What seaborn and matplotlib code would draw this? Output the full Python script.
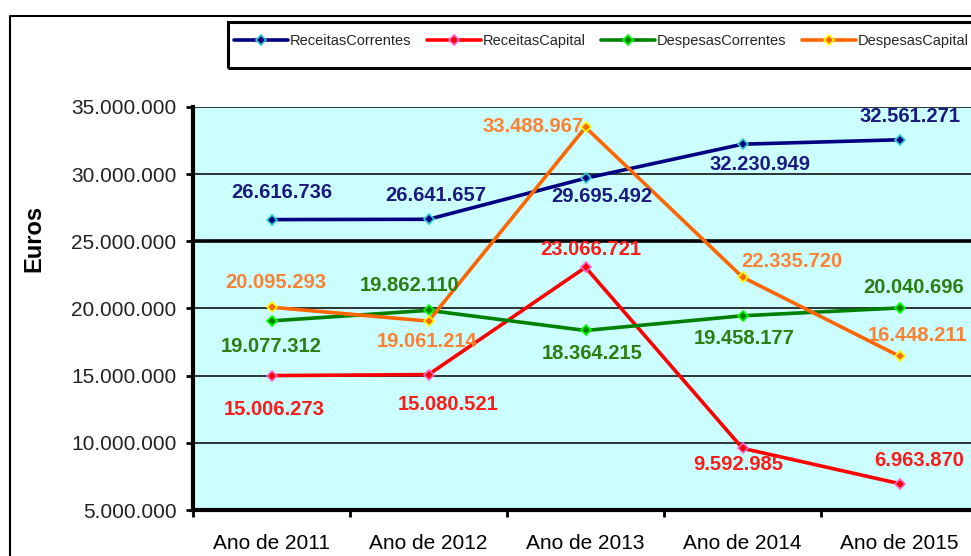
import matplotlib
matplotlib.use("Agg")
import pandas as pd
import seaborn as sns
from matplotlib import pyplot as plt
from matplotlib.lines import Line2D
from matplotlib.patches import Rectangle
from matplotlib.ticker import FuncFormatter, FixedLocator

# data
years = ["Ano de 2011", "Ano de 2012", "Ano de 2013", "Ano de 2014", "Ano de 2015"]
receitas_correntes = [26616736, 26641657, 29695492, 32230949, 32561271]
receitas_capital = [15006273, 15080521, 23066721, 9592985, 6963870]
despesas_correntes = [19077312, 19862110, 18364215, 19458177, 20040696]
despesas_capital = [20095293, 19061214, 33488967, 22335720, 16448211]
y_ticks = [5000000, 10000000, 15000000, 20000000, 25000000, 30000000, 35000000]

series = [
    ("ReceitasCorrentes", receitas_correntes),
    ("ReceitasCapital", receitas_capital),
    ("DespesasCorrentes", despesas_correntes),
    ("DespesasCapital", despesas_capital),
]

# styling
line_colors = ["#000080", "#ff0000", "#008000", "#ff6600"]
edge_colors = ["#33cccc", "#ff66cc", "#00ff00", "#ffff00"]
label_colors = ["#1a1a80", "#ff1a1a", "#2a7f10", "#ff8033"]
# label offsets in pixels (dx, dy) relative to each point
offsets = [
    [(10, 27), (7, 24), (16, -18), (17, -20), (10, 23)],
    [(3, -34), (20, -30), (5, 18), (-4, -16), (20, 23)],
    [(0, -26), (-19, 25), (7, -23), (2, -23), (14, 20)],
    [(4, 25), (-1, -20), (-52, 1), (49, 16), (18, 21)],
]

sns.set_style("white")
plt.rcParams["font.family"] = ["Liberation Sans", "DejaVu Sans"]

W, H = 971, 556
fig = plt.figure(figsize=(W / 100, H / 100), dpi=100)
fig.patch.set_facecolor("white")
ax = fig.add_axes([193 / W, 46 / H, 785 / W, 403 / H])
ax.set_facecolor("#ccffff")

for (name, vals), lc, ec in zip(series, line_colors, edge_colors):
    df = pd.DataFrame({"ano": years, "valor": vals})
    sns.lineplot(
        data=df, x="ano", y="valor", ax=ax, color=lc, linewidth=2.6,
        marker="D", markersize=5.5, markerfacecolor=lc, markeredgecolor=ec,
        markeredgewidth=1.2, label=name, zorder=3,
    )

def fmt(v, _=None):
    return f"{int(v):,}".replace(",", ".")

for (name, vals), tc, offs in zip(series, label_colors, offsets):
    for i, (v, (dx, dy)) in enumerate(zip(vals, offs)):
        ax.annotate(fmt(v), (i, v), xytext=(dx, dy), textcoords="offset pixels",
                    ha="center", va="center", fontsize=14.5, fontweight="bold",
                    color=tc, annotation_clip=False, zorder=4)

ax.set_xlim(-0.5, 4.5)
ax.set_ylim(5000000, 35000000)
ax.yaxis.set_major_locator(FixedLocator(y_ticks))
ax.yaxis.set_major_formatter(FuncFormatter(fmt))
ax.grid(axis="y", color="black", linewidth=1.1, zorder=1)
ax.axhline(25000000, color="black", linewidth=2.6, zorder=1)
ax.set_axisbelow(True)

ax.set_xticks(range(len(years)))
ax.set_xticklabels(years)
ax.set_xticks([i - 0.5 for i in range(len(years) + 1)], minor=True)
ax.tick_params(axis="x", which="major", length=0, pad=17, labelsize=15, colors="black")
ax.tick_params(axis="x", which="minor", length=5, width=2, direction="out", color="black")
ax.tick_params(axis="y", which="major", length=5, width=2, direction="out",
               pad=7, labelsize=15, color="black", labelcolor="#222222")
ax.xaxis.set_ticks_position("bottom")
ax.yaxis.set_ticks_position("left")

for side in ["top", "right"]:
    ax.spines[side].set_visible(False)
for side in ["left", "bottom"]:
    ax.spines[side].set_linewidth(3)
    ax.spines[side].set_color("black")

ax.set_xlabel("")
ax.set_ylabel("Euros", fontsize=17, fontweight="bold", color="black")
ax.yaxis.set_label_coords(-0.188, 0.675)

# legend
handles, labels = ax.get_legend_handles_labels()
ax.get_legend().remove()
fig.legend(handles, labels, loc="center left", bbox_to_anchor=(234 / W, 1 - 41 / H),
           ncol=4, frameon=False, fontsize=10.5, handlelength=3.7,
           handletextpad=0.1, columnspacing=1.1, borderpad=0, borderaxespad=0)
fig.patches.append(Rectangle((228 / W, 1 - 68 / H), 760 / W, 46 / H,
                             transform=fig.transFigure, fill=False,
                             edgecolor="black", linewidth=2.2))

# outer chart frame
fig.add_artist(Line2D([10 / W, 10 / W, 1.01], [0, 1 - 16 / H, 1 - 16 / H],
                      transform=fig.transFigure, color="black", linewidth=1.5))

fig.savefig("out.png", dpi=100)
